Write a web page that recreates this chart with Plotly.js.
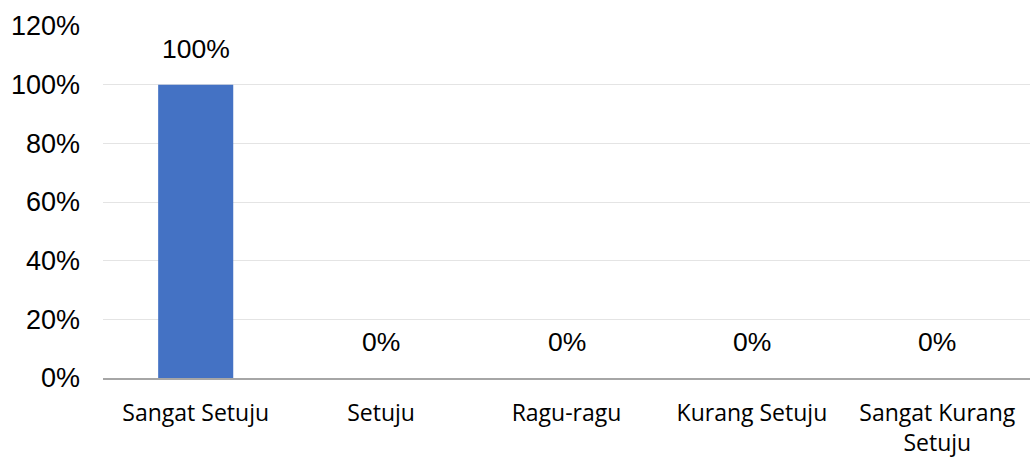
<!DOCTYPE html>
<html>
<head>
<meta charset="utf-8">
<script src="https://cdn.plot.ly/plotly-3.0.1.min.js"></script>
<style>html,body{margin:0;padding:0;background:#fff}#chart{width:1030px;height:457px}</style>
</head>
<body>
<div id="chart"></div>
<script>
var categories = ["Sangat Setuju", "Setuju", "Ragu-ragu", "Kurang Setuju", "Sangat Kurang<br>Setuju"];
var values = [100, 0, 0, 0, 0];
var yTickVals = [0, 20, 40, 60, 80, 100, 120];
var yTickText = ["0%", "20%", "40%", "60%", "80%", "100%", "120%"];

var trace = {
  type: "bar",
  x: categories,
  y: values,
  marker: {color: "#4472C4"},
  hoverinfo: "none"
};

var annotations = categories.map(function (c, i) {
  return {
    x: c, y: values[i], xref: "x", yref: "y",
    text: values[i] + "%",
    showarrow: false,
    yanchor: "bottom",
    yshift: 19,
    font: {family: "Liberation Sans, Arial, sans-serif", size: 26.5, color: "#000"}
  };
});

var layout = {
  width: 1030, height: 457,
  margin: {l: 103, r: 0, t: 26, b: 79},
  paper_bgcolor: "#fff", plot_bgcolor: "#fff",
  showlegend: false,
  bargap: 0.595,
  xaxis: {
    showgrid: false, zeroline: false,
    showline: true, linecolor: "#a6a6a6", linewidth: 1.5,
    ticks: "",
    ticklabelstandoff: 14,
    tickfont: {family: "Open Sans, sans-serif", size: 23, color: "#000"}
  },
  yaxis: {
    range: [0, 120],
    tickvals: yTickVals, ticktext: yTickText,
    showgrid: true, gridcolor: "#e4e4e4", gridwidth: 1,
    zeroline: false, showline: false, ticks: "",
    ticklabelstandoff: 22,
    tickfont: {family: "Liberation Sans, Arial, sans-serif", size: 27, color: "#000"}
  },
  annotations: annotations
};

Plotly.newPlot("chart", [trace], layout, {displayModeBar: false, staticPlot: true});
</script>
</body>
</html>
